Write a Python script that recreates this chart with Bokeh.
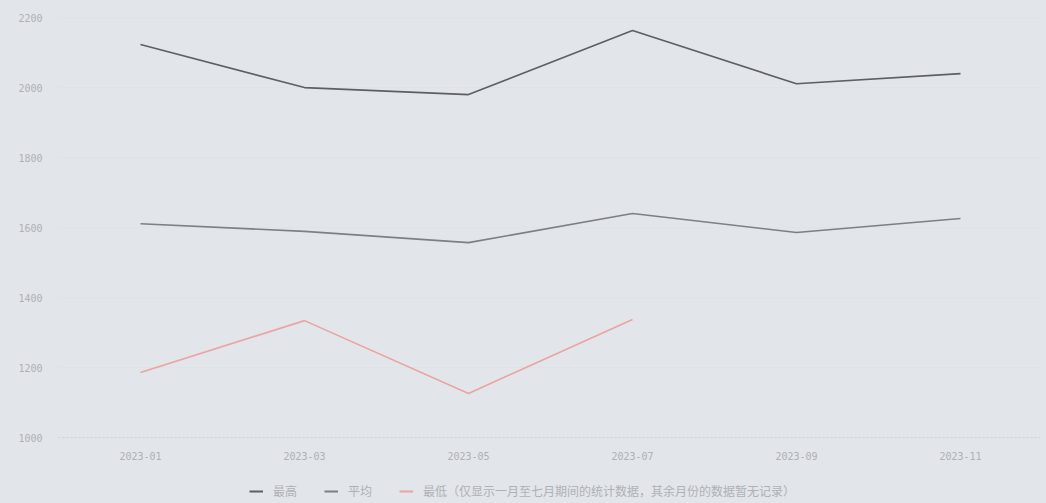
from bokeh.plotting import figure
from bokeh.layouts import column
from bokeh.models import ColumnDataSource, Legend, LegendItem, Range1d, FixedTicker
from bokeh.embed import file_html
from bokeh.resources import INLINE

months = ["2023-01", "2023-03", "2023-05", "2023-07", "2023-09", "2023-11"]
series_high = [2123, 2000, 1980, 2163, 2011, 2040]
series_avg = [1611, 1589, 1557, 1640, 1586, 1626]
series_low = [1186, 1334, 1126, 1337]
name_high = "最高"
name_avg = "平均"
name_low = "最低（仅显示一月至七月期间的统计数据，其余月份的数据暂无记录）"
y_ticks = [1000, 1200, 1400, 1600, 1800, 2000, 2200]

BG = "#e2e5e9"
C_HIGH, C_AVG, C_LOW = "#5d5f62", "#7d7f83", "#eba3a3"

p = figure(x_range=months, y_range=Range1d(1000, 2226), width=1046, height=470,
           output_backend="svg", toolbar_location=None,
           background_fill_color=BG, border_fill_color=BG,
           min_border_left=58, min_border_right=4, min_border_top=8, min_border_bottom=33)
p.styles = {"background-color": BG}
p.outline_line_color = None
p.xgrid.grid_line_color = None
p.ygrid.grid_line_color = "#dcdfe3"
p.ygrid.grid_line_alpha = 0.4

p.yaxis.ticker = FixedTicker(ticks=y_ticks)
for ax in (p.xaxis, p.yaxis):
    ax.axis_line_color = None
    ax.major_tick_line_color = None
    ax.minor_tick_line_color = None
    ax.major_label_text_color = "#aeb1b6"
    ax.major_label_text_font = "DejaVu Sans Mono"
    ax.major_label_text_font_size = "10px"
p.yaxis.major_label_standoff = 10
p.xaxis.major_label_standoff = 8
p.xaxis.axis_line_color = "#d0d3d7"
p.xaxis.axis_line_dash = "2 2"

src_h = ColumnDataSource(dict(x=months, y=series_high))
src_a = ColumnDataSource(dict(x=months, y=series_avg))
src_l = ColumnDataSource(dict(x=months[:len(series_low)], y=series_low))

p.line("x", "y", source=src_h, line_color=C_HIGH, line_width=1.6)
p.line("x", "y", source=src_a, line_color=C_AVG, line_width=1.6)
p.line("x", "y", source=src_l, line_color=C_LOW, line_width=1.6)

# legend strip below the chart (same series, drawn out of view so only the legend shows)
lg = figure(x_range=months, y_range=Range1d(0, 1), width=1046, height=33,
            output_backend="svg", toolbar_location=None,
            background_fill_color=BG, border_fill_color=BG,
            min_border_left=0, min_border_right=0, min_border_top=0, min_border_bottom=0)
lg.styles = {"background-color": BG}
lg.axis.visible = False
lg.grid.visible = False
lg.outline_line_color = None
l1 = lg.line("x", "y", source=src_h, line_color=C_HIGH, line_width=2)
l2 = lg.line("x", "y", source=src_a, line_color=C_AVG, line_width=2)
l3 = lg.line("x", "y", source=src_l, line_color=C_LOW, line_width=2)

legend = Legend(items=[LegendItem(label=name_high, renderers=[l1]),
                       LegendItem(label=name_avg, renderers=[l2]),
                       LegendItem(label=name_low, renderers=[l3])],
                orientation="horizontal", location=(191, 4),
                background_fill_alpha=0, border_line_color=None,
                label_text_color="#aeb1b6", label_text_font_size="12px",
                label_text_font="Noto Sans CJK SC", label_standoff=10,
                glyph_width=14, glyph_height=12, spacing=27, padding=0, margin=0)
lg.add_layout(legend, "center")

layout = column(p, lg, spacing=0)
layout.styles = {"background-color": BG}
open("out.html", "w").write(file_html(layout, INLINE))
